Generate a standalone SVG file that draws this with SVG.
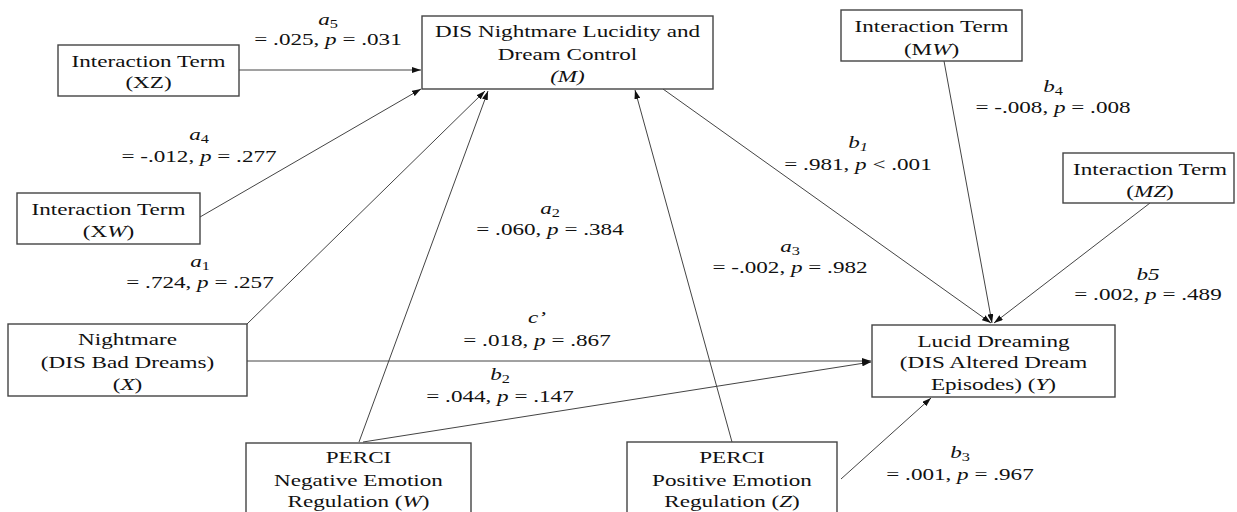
<svg xmlns="http://www.w3.org/2000/svg" width="1237" height="512" viewBox="0 0 1237 512">
<style>
.box{fill:#fff;stroke:#444;stroke-width:1.4}
.t{font-family:"Liberation Serif","Times New Roman",serif;font-size:17px;fill:#111;text-anchor:middle}
.i{font-style:italic}
.s{font-size:12px}
.c{stroke:#444;stroke-width:1;fill:none}
</style>
<defs>
<marker id="ah" markerWidth="9" markerHeight="6" refX="9" refY="3" orient="auto" markerUnits="userSpaceOnUse"><path d="M0,0 L9,3 L0,6 z" fill="#111"/></marker>
</defs>
<rect width="1237" height="512" fill="#fff"/>
<g id="connectors">
<line class="c" x1="239" y1="70" x2="421" y2="70" marker-end="url(#ah)"/>
<line class="c" x1="200" y1="217" x2="421" y2="89" marker-end="url(#ah)"/>
<line class="c" x1="247" y1="324" x2="485" y2="91" marker-end="url(#ah)"/>
<line class="c" x1="359" y1="442" x2="488" y2="91" marker-end="url(#ah)"/>
<line class="c" x1="732" y1="442" x2="635" y2="90" marker-end="url(#ah)"/>
<line class="c" x1="663" y1="89" x2="991" y2="323" marker-end="url(#ah)"/>
<line class="c" x1="944" y1="61" x2="992" y2="323" marker-end="url(#ah)"/>
<line class="c" x1="1150" y1="203" x2="994" y2="323" marker-end="url(#ah)"/>
<line class="c" x1="247" y1="361" x2="871" y2="361" marker-end="url(#ah)"/>
<line class="c" x1="363" y1="442" x2="871" y2="362" marker-end="url(#ah)"/>
<line class="c" x1="841" y1="479" x2="931" y2="398" marker-end="url(#ah)"/>
</g>
<g id="labels">
<text class="t" transform="translate(328 0) scale(1.36 1)"><tspan x="0" y="25" class="i">a</tspan><tspan class="s" dy="3">5</tspan><tspan x="0" y="45">= .025, <tspan class="i">p</tspan> = .031</tspan></text>
<text class="t" transform="translate(199 0) scale(1.36 1)"><tspan x="0" y="140" class="i">a</tspan><tspan class="s" dy="3">4</tspan><tspan x="0" y="162">= -.012, <tspan class="i">p</tspan> = .277</tspan></text>
<text class="t" transform="translate(200 0) scale(1.36 1)"><tspan x="0" y="267" class="i">a</tspan><tspan class="s" dy="3">1</tspan><tspan x="0" y="288">= .724, <tspan class="i">p</tspan> = .257</tspan></text>
<text class="t" transform="translate(550 0) scale(1.36 1)"><tspan x="0" y="214" class="i">a</tspan><tspan class="s" dy="3">2</tspan><tspan x="0" y="235">= .060, <tspan class="i">p</tspan> = .384</tspan></text>
<text class="t" transform="translate(537 0) scale(1.36 1)"><tspan x="0" y="323" class="i">c’</tspan><tspan x="0" y="346">= .018, <tspan class="i">p</tspan> = .867</tspan></text>
<text class="t" transform="translate(790 0) scale(1.36 1)"><tspan x="0" y="252" class="i">a</tspan><tspan class="s" dy="3">3</tspan><tspan x="0" y="273">= -.002, <tspan class="i">p</tspan> = .982</tspan></text>
<text class="t" transform="translate(858 0) scale(1.36 1)"><tspan x="0" y="148" class="i">b</tspan><tspan class="s i" dy="3">1</tspan><tspan x="0" y="170">= .981, <tspan class="i">p</tspan> &lt; .001</tspan></text>
<text class="t" transform="translate(1053 0) scale(1.36 1)"><tspan x="0" y="92" class="i">b</tspan><tspan class="s" dy="3">4</tspan><tspan x="0" y="113">= -.008, <tspan class="i">p</tspan> = .008</tspan></text>
<text class="t" transform="translate(1148 0) scale(1.36 1)"><tspan x="0" y="280" class="i">b5</tspan><tspan x="0" y="300">= .002, <tspan class="i">p</tspan> = .489</tspan></text>
<text class="t" transform="translate(500 0) scale(1.36 1)"><tspan x="0" y="380" class="i">b</tspan><tspan class="s" dy="3">2</tspan><tspan x="0" y="402">= .044, <tspan class="i">p</tspan> = .147</tspan></text>
<text class="t" transform="translate(960 0) scale(1.36 1)"><tspan x="0" y="458" class="i">b</tspan><tspan class="s" dy="3">3</tspan><tspan x="0" y="480">= .001, <tspan class="i">p</tspan> = .967</tspan></text>
</g>
<g id="node-XZ">
<rect class="box" x="58" y="45" width="181" height="51"/>
<text class="t" transform="translate(148.5 0) scale(1.36 1)"><tspan x="0" y="67">Interaction Term</tspan><tspan x="0" y="88">(XZ)</tspan></text>
</g>
<g id="node-XW">
<rect class="box" x="17" y="193" width="183" height="51"/>
<text class="t" transform="translate(108.5 0) scale(1.36 1)"><tspan x="0" y="215">Interaction Term</tspan><tspan x="0" y="237">(X<tspan class="i">W</tspan>)</tspan></text>
</g>
<g id="node-M">
<rect class="box" x="422" y="16" width="291" height="73"/>
<text class="t" transform="translate(567.5 0) scale(1.36 1)"><tspan x="0" y="37">DIS Nightmare Lucidity and</tspan><tspan x="0" y="60">Dream Control</tspan><tspan x="0" y="82" class="i">(M)</tspan></text>
</g>
<g id="node-MW">
<rect class="box" x="841" y="10" width="181" height="51"/>
<text class="t" transform="translate(931.5 0) scale(1.36 1)"><tspan x="0" y="32">Interaction Term</tspan><tspan x="0" y="55">(M<tspan class="i">W</tspan>)</tspan></text>
</g>
<g id="node-MZ">
<rect class="box" x="1063" y="153" width="171" height="50"/>
<text class="t" transform="translate(1150 0) scale(1.36 1)"><tspan x="0" y="175">Interaction Term</tspan><tspan x="0" y="197">(<tspan class="i">MZ</tspan>)</tspan></text>
</g>
<g id="node-X">
<rect class="box" x="8" y="324" width="239" height="72"/>
<text class="t" transform="translate(127.5 0) scale(1.36 1)"><tspan x="0" y="345">Nightmare</tspan><tspan x="0" y="368">(DIS Bad Dreams)</tspan><tspan x="0" y="390">(<tspan class="i">X</tspan>)</tspan></text>
</g>
<g id="node-Y">
<rect class="box" x="872" y="325" width="243" height="72"/>
<text class="t" transform="translate(993.5 0) scale(1.36 1)"><tspan x="0" y="347">Lucid Dreaming</tspan><tspan x="0" y="368">(DIS Altered Dream</tspan><tspan x="0" y="390">Episodes) (<tspan class="i">Y</tspan>)</tspan></text>
</g>
<g id="node-W">
<rect class="box" x="246" y="443" width="225" height="80"/>
<text class="t" transform="translate(358.5 0) scale(1.36 1)"><tspan x="0" y="463">PERCI</tspan><tspan x="0" y="486">Negative Emotion</tspan><tspan x="0" y="507">Regulation  (<tspan class="i">W</tspan>)</tspan></text>
</g>
<g id="node-Z">
<rect class="box" x="627" y="442" width="210" height="80"/>
<text class="t" transform="translate(732 0) scale(1.36 1)"><tspan x="0" y="463">PERCI</tspan><tspan x="0" y="486">Positive Emotion</tspan><tspan x="0" y="507">Regulation (<tspan class="i">Z</tspan>)</tspan></text>
</g>
</svg>
